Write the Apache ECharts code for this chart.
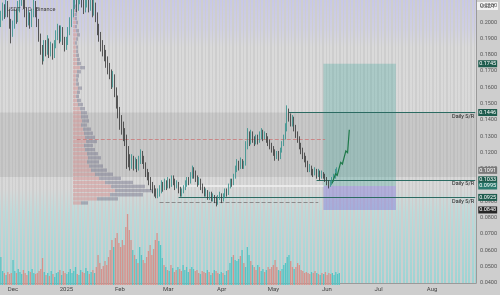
<!DOCTYPE html>
<html>
<head>
<meta charset="utf-8">
<script src="https://cdn.jsdelivr.net/npm/echarts@6/dist/echarts.min.js"></script>
<style>
html,body{margin:0;padding:0;background:#cecece}
#chart{width:500px;height:295px}
</style>
</head>
<body>
<div id="chart"></div>
<script>
// daily axis, 2024-11-24 .. 2025-08-26
var startDate = '2024-11-24';
var dayCount = 276;
var monthDates = ['2024-12-01','2025-01-01','2025-02-01','2025-03-01','2025-04-01','2025-05-01','2025-06-01','2025-07-01','2025-08-01'];
var monthLabels = ['Dec','2025','Feb','Mar','Apr','May','Jun','Jul','Aug'];

// [open, close, low, high]
var candles = [
[0.200,0.203,0.197,0.207],[0.203,0.208,0.201,0.212],[0.208,0.205,0.202,0.211],[0.205,0.210,0.203,0.215],[0.210,0.206,0.203,0.213],
[0.206,0.200,0.196,0.208],[0.200,0.194,0.187,0.202],[0.194,0.198,0.191,0.201],[0.198,0.205,0.196,0.208],[0.205,0.202,0.199,0.208],
[0.202,0.209,0.200,0.213],[0.209,0.214,0.206,0.219],[0.214,0.218,0.210,0.224],[0.218,0.212,0.208,0.221],[0.212,0.206,0.203,0.215],
[0.206,0.201,0.197,0.209],[0.201,0.204,0.198,0.207],[0.204,0.199,0.196,0.206],[0.199,0.205,0.197,0.208],[0.205,0.210,0.203,0.214],
[0.210,0.207,0.203,0.213],[0.207,0.200,0.197,0.209],[0.200,0.191,0.188,0.202],[0.191,0.183,0.180,0.193],[0.183,0.178,0.174,0.186],
[0.178,0.186,0.176,0.189],[0.186,0.182,0.179,0.189],[0.182,0.188,0.180,0.192],[0.188,0.181,0.178,0.190],[0.181,0.185,0.179,0.188],
[0.185,0.180,0.177,0.187],[0.180,0.186,0.178,0.189],[0.186,0.192,0.184,0.195],[0.192,0.196,0.189,0.199],[0.196,0.190,0.187,0.198],
[0.190,0.195,0.188,0.198],[0.195,0.189,0.186,0.197],[0.189,0.185,0.182,0.191],[0.185,0.188,0.183,0.191],[0.188,0.194,0.186,0.197],
[0.194,0.199,0.192,0.203],[0.199,0.205,0.197,0.208],[0.205,0.211,0.203,0.215],[0.211,0.216,0.208,0.222],[0.216,0.210,0.206,0.219],
[0.210,0.214,0.207,0.218],[0.214,0.219,0.211,0.226],[0.219,0.213,0.209,0.222],[0.213,0.208,0.205,0.216],[0.208,0.212,0.206,0.216],
[0.212,0.217,0.209,0.222],[0.217,0.209,0.206,0.219],[0.209,0.213,0.207,0.217],[0.213,0.206,0.203,0.215],[0.206,0.210,0.204,0.214],
[0.210,0.204,0.200,0.212],[0.204,0.196,0.192,0.206],[0.196,0.192,0.188,0.199],[0.192,0.186,0.182,0.194],[0.186,0.183,0.179,0.189],
[0.183,0.180,0.176,0.186],[0.180,0.176,0.172,0.183],[0.176,0.172,0.168,0.179],[0.172,0.168,0.165,0.175],[0.168,0.163,0.159,0.171],
[0.163,0.166,0.160,0.170],[0.166,0.158,0.154,0.168],[0.158,0.152,0.147,0.160],[0.152,0.146,0.141,0.155],[0.146,0.140,0.134,0.148],
[0.140,0.136,0.131,0.143],[0.136,0.131,0.127,0.139],[0.131,0.128,0.124,0.135],[0.128,0.120,0.110,0.131],[0.120,0.116,0.111,0.124],
[0.116,0.113,0.109,0.119],[0.113,0.116,0.110,0.119],[0.116,0.112,0.109,0.118],[0.112,0.114,0.110,0.117],[0.114,0.111,0.108,0.116],
[0.111,0.115,0.109,0.118],[0.115,0.119,0.113,0.122],[0.119,0.116,0.113,0.121],[0.116,0.112,0.110,0.118],[0.112,0.108,0.105,0.114],
[0.108,0.106,0.103,0.110],[0.106,0.103,0.100,0.108],[0.103,0.100,0.097,0.105],[0.100,0.098,0.095,0.102],[0.098,0.096,0.093,0.100],
[0.096,0.094,0.092,0.098],[0.094,0.095,0.092,0.098],[0.095,0.097,0.093,0.100],[0.097,0.100,0.095,0.103],[0.100,0.098,0.096,0.102],
[0.098,0.101,0.097,0.104],[0.101,0.099,0.097,0.103],[0.099,0.102,0.098,0.105],[0.102,0.100,0.098,0.104],[0.100,0.104,0.099,0.106],
[0.104,0.102,0.100,0.106],[0.102,0.099,0.097,0.104],[0.099,0.101,0.098,0.103],[0.101,0.097,0.095,0.102],[0.097,0.095,0.093,0.099],
[0.095,0.096,0.093,0.098],[0.096,0.098,0.095,0.100],[0.098,0.101,0.097,0.103],[0.101,0.103,0.099,0.105],[0.103,0.102,0.100,0.105],
[0.102,0.106,0.101,0.108],[0.106,0.109,0.104,0.112],[0.109,0.107,0.104,0.111],[0.107,0.104,0.102,0.109],[0.104,0.101,0.099,0.106],
[0.101,0.103,0.100,0.105],[0.103,0.099,0.097,0.104],[0.099,0.097,0.095,0.101],[0.097,0.095,0.093,0.099],[0.095,0.096,0.093,0.098],
[0.096,0.093,0.091,0.097],[0.093,0.094,0.091,0.096],[0.094,0.092,0.090,0.096],[0.092,0.093,0.090,0.095],[0.093,0.091,0.089,0.094],
[0.091,0.089,0.087,0.093],[0.089,0.092,0.088,0.094],[0.092,0.094,0.091,0.096],[0.094,0.091,0.089,0.095],[0.091,0.093,0.090,0.095],
[0.093,0.096,0.092,0.098],[0.096,0.095,0.093,0.098],[0.095,0.099,0.094,0.101],[0.099,0.102,0.098,0.104],[0.102,0.101,0.099,0.104],
[0.101,0.105,0.100,0.107],[0.105,0.109,0.104,0.112],[0.109,0.113,0.108,0.116],[0.113,0.111,0.109,0.115],[0.111,0.114,0.110,0.117],
[0.114,0.112,0.110,0.116],[0.112,0.113,0.110,0.115],[0.113,0.124,0.112,0.127],[0.124,0.130,0.122,0.135],[0.130,0.127,0.124,0.133],
[0.127,0.131,0.125,0.134],[0.131,0.128,0.126,0.133],[0.128,0.126,0.124,0.130],[0.126,0.129,0.125,0.131],[0.129,0.127,0.125,0.131],
[0.127,0.130,0.126,0.133],[0.130,0.132,0.128,0.135],[0.132,0.129,0.127,0.134],[0.129,0.131,0.128,0.133],[0.131,0.128,0.126,0.132],
[0.128,0.126,0.124,0.130],[0.126,0.124,0.122,0.128],[0.124,0.122,0.120,0.126],[0.122,0.120,0.118,0.124],[0.120,0.117,0.115,0.122],
[0.117,0.119,0.116,0.121],[0.119,0.117,0.115,0.121],[0.117,0.121,0.116,0.123],[0.121,0.125,0.120,0.127],[0.125,0.129,0.124,0.131],
[0.129,0.134,0.128,0.138],[0.134,0.145,0.133,0.149],[0.145,0.142,0.139,0.147],[0.142,0.139,0.136,0.144],[0.139,0.140,0.136,0.143],
[0.140,0.135,0.133,0.142],[0.135,0.131,0.129,0.137],[0.131,0.128,0.126,0.133],[0.128,0.124,0.122,0.130],[0.124,0.121,0.119,0.126],
[0.121,0.118,0.116,0.123],[0.118,0.116,0.114,0.120],[0.116,0.113,0.111,0.118],[0.113,0.110,0.108,0.115],[0.110,0.111,0.108,0.113],
[0.111,0.108,0.106,0.112],[0.108,0.107,0.105,0.110],[0.107,0.109,0.106,0.111],[0.109,0.106,0.104,0.110],[0.106,0.108,0.105,0.110],
[0.108,0.105,0.103,0.109],[0.105,0.107,0.104,0.109],[0.107,0.106,0.104,0.108],[0.106,0.104,0.102,0.107],[0.104,0.102,0.100,0.105],
[0.102,0.100,0.098,0.103],[0.100,0.101,0.099,0.103],[0.101,0.103,0.100,0.105],[0.103,0.105,0.102,0.107],[0.105,0.108,0.104,0.110],
[0.108,0.109,0.106,0.111]
];

var volumes = [
28,14,12,10,13,11,12,25,14,12, 16,13,11,15,12,10,14,13,16,12,
11,12,14,16,27,13,10,12,9,14, 11,8,12,13,15,10,14,12,11,13,
16,12,14,18,11,10,15,13,12,17, 14,11,13,15,12,18,30,22,16,19,
24,20,28,35,45,38,47,52,42,38, 45,40,58,71,55,45,35,30,26,22,
38,30,25,22,28,34,40,30,36,45, 52,44,40,27,20,18,15,14,20,17,
13,15,18,16,14,20,15,18,13,16, 18,16,14,15,12,11,14,13,12,15,
13,10,12,15,14,12,11,13,12,10, 14,15,22,28,30,25,24,26,29,35,
22,18,38,30,24,20,18,15,20,18, 14,16,13,15,18,16,18,20,25,18,
15,14,16,20,22,28,30,24,18,16, 18,22,20,15,14,12,13,12,11,13,
12,14,12,11,10,12,11,13,10,12, 11,12,10,13,11,12
];

// visible-range volume profile, rows from 0.2136 down to 0.0879
var profileUp = [1,2,2,2,2,3,2,3,4,3, 2,3,3,3,4,4,7,4,3,3, 3,5,4,3,4,5,7,8,8,9, 8,10,11,12,13,11,12,14,15,14, 16,18,22,26,32,38,42,37,24,8];
var profileDown = [1,1,1,2,2,2,2,3,3,2, 2,2,2,3,3,4,5,4,3,2, 3,4,3,3,4,5,5,6,7,7, 6,8,9,10,11,9,10,11,13,12, 14,16,18,22,28,34,38,33,21,7];

var srLevels = [0.1446, 0.1033, 0.0925];
var srStarts = [167, 183, 103];
var targetPrice = 0.1745, entryPrice = 0.0995, stopPrice = 0.0848, lastPrice = 0.1091;
var positionStart = 187, positionEnd = 229;
var pocLevel = 0.1284, rangeLow = 0.0897;
var bandTop = 0.1446, bandBottom = 0.1050;
var arrowPath = [[192,0.101],[194,0.107],[195,0.106],[197,0.114],[198,0.113],[200,0.121],[201,0.120],[202,0.134]];

var dates = [];
var d0 = new Date(startDate + 'T00:00:00Z');
for (var i = 0; i < dayCount; i++) {
	var d = new Date(d0.getTime() + i * 86400000);
	dates.push(d.toISOString().slice(0, 10));
}
var profileRows = [];
for (var k = 0; k < profileUp.length; k++) profileRows.push('r' + k);

var upCol = '#2f8f8a', downCol = '#353535';
var volData = volumes.map(function (v, i) {
	var up = candles[i][1] >= candles[i][0];
	return {value: v, itemStyle: {color: up ? '#57c4c4' : '#d4938d'}};
});

// price tags on the right scale
function tag(v, bg) {
	return [{coord: [dayCount - 4, v], lineStyle: {color: 'rgba(0,0,0,0)', width: 0.1},
		label: {show: true, position: 'end', distance: 3, formatter: v.toFixed(4), color: '#fff', opacity: 1,
			backgroundColor: bg, padding: [1, 1, 0, 1], fontSize: 5.5}},
		{coord: [dayCount - 1, v]}];
}
function srLine(v, start) {
	return [{coord: [start, v], lineStyle: {color: '#2c6b62', width: 1, type: 'solid'},
		label: {show: true, position: 'insideEndBottom', formatter: 'Daily S/R', color: '#222', fontSize: 5.5, distance: 1}},
		{coord: [dayCount - 1, v]}];
}

var lineData = [];
for (var s = 0; s < srLevels.length; s++) lineData.push(srLine(srLevels[s], srStarts[s]));
lineData.push([{coord: [44, pocLevel], lineStyle: {color: 'rgba(205,110,110,0.7)', type: 'dashed', width: 1}}, {coord: [188, pocLevel]}]);
lineData.push([{coord: [92, rangeLow], lineStyle: {color: '#8a8a8a', type: 'dashed', width: 1}}, {coord: [184, rangeLow]}]);
lineData.push([{coord: [103, entryPrice], lineStyle: {color: 'rgba(236,236,236,0.9)', width: 2, type: 'solid'}}, {coord: [positionStart, entryPrice]}]);
lineData.push(tag(targetPrice, '#1f5c4e'));
lineData.push(tag(srLevels[0], '#1f5c4e'));
lineData.push(tag(lastPrice, '#7a7a7a'));
lineData.push(tag(srLevels[1], '#1f5c4e'));
lineData.push(tag(entryPrice, '#2b7a6e'));
lineData.push(tag(srLevels[2], '#1f5c4e'));
lineData.push(tag(stopPrice, '#262626'));

var stripe = {
	type: 'linear', x: 0, y: 0, x2: 0, y2: 295, global: true,
	colorStops: [
		{offset: 0, color: '#c6c6f0'}, {offset: 0.1, color: '#d0d0ea'},
		{offset: 0.16, color: '#dedede'}, {offset: 0.64, color: '#dcdcdc'},
		{offset: 0.72, color: '#b6dede'}, {offset: 1, color: '#86d4d4'}
	]
};

var dom = document.getElementById('chart');
var myChart = echarts.init(dom, null, {renderer: 'canvas'});

var option = {
	animation: false,
	backgroundColor: '#cecece',
	textStyle: {fontFamily: 'Roboto, sans-serif'},
	title: {text: 'USDT · 1D · Binance', left: 2, top: 2,
		textStyle: {fontSize: 5.5, fontWeight: 'normal', color: '#444'}},
	graphic: [{type: 'text', right: 2, top: 2,
		style: {text: 'USDT', fontSize: 5.5, fill: '#444', backgroundColor: '#f2f2f2', padding: [1, 3]}}],
	grid: [
		{left: 0, right: 21, top: 0, bottom: 12},
		{left: 0, right: 21, top: 195, bottom: 10},
		{left: 73, width: 100, top: 0, height: 205}
	],
	xAxis: [
		{type: 'category', data: dates, gridIndex: 0, boundaryGap: true,
			axisLine: {lineStyle: {color: '#9a9a9a'}}, axisTick: {show: false},
			splitLine: {show: true, interval: 1, lineStyle: {color: stripe, width: 1.5}},
			axisLabel: {
				interval: function (idx, val) { return monthDates.indexOf(val) >= 0; },
				formatter: function (val) { return monthLabels[monthDates.indexOf(val)]; },
				fontSize: 6, color: '#444', margin: 3
			}},
		{type: 'category', data: dates, gridIndex: 1, boundaryGap: true, show: false},
		{type: 'value', gridIndex: 2, min: 0, max: 100, show: false}
	],
	yAxis: [
		{type: 'value', gridIndex: 0, position: 'right', min: 0.04, max: 0.2136, interval: 0.01,
			axisLine: {show: true, lineStyle: {color: '#9a9a9a'}}, axisTick: {show: false},
			splitLine: {show: false},
			axisLabel: {showMaxLabel: false, fontSize: 5.5, color: '#555', margin: 4,
				formatter: function (v) { return v.toFixed(4); }}},
		{type: 'value', gridIndex: 1, min: 0, max: 90, show: false},
		{type: 'category', gridIndex: 2, data: profileRows, inverse: true, show: false}
	],
	series: [
		{name: 'vpUp', type: 'bar', xAxisIndex: 2, yAxisIndex: 2, stack: 'vp', data: profileUp,
			barCategoryGap: '18%', itemStyle: {color: 'rgba(214,150,150,0.55)'}, silent: true, z: 1},
		{name: 'vpDown', type: 'bar', xAxisIndex: 2, yAxisIndex: 2, stack: 'vp', data: profileDown,
			barCategoryGap: '18%', itemStyle: {color: 'rgba(112,112,138,0.45)'}, silent: true, z: 1},
		{name: 'Volume', type: 'bar', xAxisIndex: 1, yAxisIndex: 1, data: volData,
			barCategoryGap: '25%', silent: true, z: 2},
		{name: 'Price', type: 'candlestick', xAxisIndex: 0, yAxisIndex: 0, data: candles, z: 5,
			barMaxWidth: 2,
			itemStyle: {color: upCol, color0: downCol, borderColor: upCol, borderColor0: downCol, borderWidth: 0.8},
			markArea: {silent: true, data: [
				[{yAxis: bandTop, itemStyle: {color: 'rgba(80,80,80,0.12)'}}, {yAxis: bandBottom}],
				[{coord: [positionStart, targetPrice], itemStyle: {color: 'rgba(50,160,150,0.28)'}}, {coord: [positionEnd, entryPrice]}],
				[{coord: [positionStart, entryPrice], itemStyle: {color: 'rgba(115,105,220,0.38)'}}, {coord: [positionEnd, stopPrice]}]
			]},
			markLine: {silent: true, symbol: ['none', 'none'], data: lineData}
		},
		{name: 'Path', type: 'lines', coordinateSystem: 'cartesian2d', xAxisIndex: 0, yAxisIndex: 0,
			polyline: true, z: 6, silent: true,
			symbol: ['none', 'arrow'], symbolSize: 6,
			lineStyle: {color: '#1f7a4a', width: 1.2, opacity: 1},
			data: [{coords: arrowPath}]}
	]
};

if (option && typeof option === "object") {
	myChart.setOption(option);
}
</script>
</body>
</html>
